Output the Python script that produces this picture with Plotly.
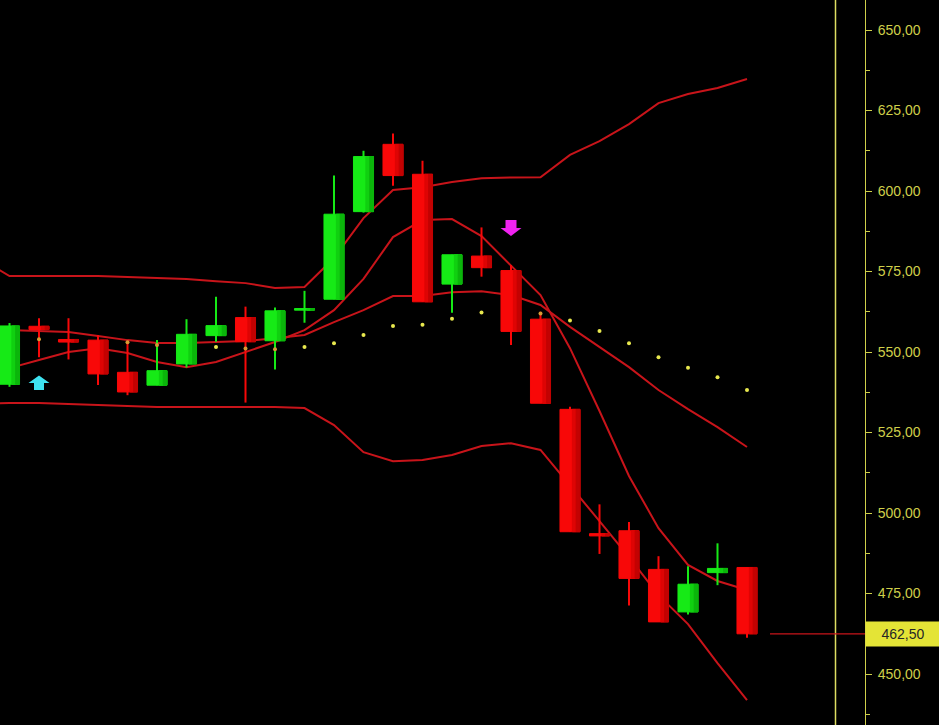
import plotly.graph_objects as go

# ---------------- data ----------------
candle_idx = list(range(26))
opens  = [540.0, 558.0, 553.9, 553.7, 543.7, 539.7, 546.3, 555.1, 560.7, 553.5, 563.0, 566.4, 593.6,
          614.5, 605.2, 571.1, 579.8, 575.3, 560.2, 532.2, 493.6, 494.5, 482.5, 469.3, 481.5, 483.1]
highs  = [559.0, 560.5, 560.5, 555.3, 553.2, 553.7, 560.2, 567.2, 564.1, 563.8, 569.0, 604.8, 612.5,
          617.9, 609.4, 580.2, 588.7, 577.0, 562.5, 533.0, 502.7, 497.2, 486.6, 483.5, 490.6, 483.1]
lows   = [539.2, 548.4, 547.7, 539.8, 536.6, 539.7, 545.2, 553.2, 534.3, 544.6, 559.1, 566.4, 593.3,
          601.6, 565.6, 562.2, 573.4, 552.2, 534.1, 494.2, 487.3, 471.3, 466.2, 468.5, 477.6, 461.3]
closes = [558.1, 557.0, 553.1, 543.2, 537.6, 544.2, 555.5, 558.2, 553.2, 562.8, 563.5, 592.8, 610.7,
          604.8, 565.6, 580.2, 576.2, 556.4, 534.1, 494.2, 492.9, 479.7, 466.2, 477.9, 482.8, 462.5]

band_idx = list(range(-1, 26))
upper_band  = [579.0, 573.6, 573.6, 573.6, 573.6, 573.3, 573.0, 572.7, 572.0, 571.4, 569.9, 570.2, 579.2,
               591.6, 600.3, 601.2, 602.8, 604.0, 604.2, 604.3, 611.2, 615.5, 620.8, 627.3, 630.1, 632.0, 634.8]
middle_band = [557.1, 556.8, 556.5, 556.2, 555.0, 553.7, 552.8, 552.8, 553.1, 553.4, 554.3, 555.3, 559.3,
               563.0, 567.4, 567.4, 568.6, 568.9, 567.7, 564.6, 557.8, 551.6, 545.3, 538.2, 532.3, 526.7, 520.5]
fast_ma     = [543.2, 545.0, 547.5, 550.0, 551.2, 549.7, 546.9, 545.3, 546.9, 550.0, 553.1, 556.8, 563.0,
               572.7, 585.7, 591.0, 591.3, 586.0, 577.0, 567.7, 551.2, 531.7, 511.5, 495.3, 483.9, 478.9, 476.1]
lower_band  = [533.9, 534.2, 534.2, 533.9, 533.5, 533.2, 532.9, 532.9, 532.9, 532.9, 532.9, 532.6, 527.3,
               518.9, 516.1, 516.5, 518.0, 520.8, 521.7, 519.6, 508.7, 497.5, 486.3, 474.5, 465.5, 453.4, 441.9]

sar_idx = [1, 4, 5, 7, 8, 9, 10, 11, 12, 13, 14, 15, 16, 18, 19, 20, 21, 22, 23, 24, 25]
sar_val = [554.0, 553.0, 552.2, 551.6, 551.1, 550.9, 551.6, 552.7, 555.3, 558.1, 558.5, 560.3, 562.3,
           562.0, 559.8, 556.5, 552.7, 548.4, 545.1, 542.2, 538.2]

buy_signal_idx = [1]
buy_signal_price = [540.4]
sell_signal_idx = [17]
sell_signal_price = [588.5]

y_ticks = [450, 475, 500, 525, 550, 575, 600, 625, 650]
cursor_idx = 28
last_price = closes[-1]

# ---------------- style ----------------
GREEN_SHADES = ['#16ea16', '#10d010', '#0bb50b']
RED_SHADES = ['#f80808', '#de0404', '#c20202']
BAND = '#c8141a'
AXIS = '#cfcf4a'
CURSOR = '#dede62'
FONT = 'Liberation Sans, Arial, sans-serif'
x_view = [-0.322, 29.0]
y_view = [434.18, 659.32]
BODY_W = 0.68

fig = go.Figure()

# indicator lines (main subplot, below candles)
for series in (upper_band, middle_band, fast_ma, lower_band):
    fig.add_trace(go.Scatter(x=band_idx, y=series, mode='lines',
                             line=dict(color=BAND, width=2),
                             xaxis='x', yaxis='y', hoverinfo='skip'))

# candles (overlay subplot, above the lines)
for rising in (True, False):
    sel = [i for i in candle_idx if (closes[i] >= opens[i]) == rising]
    shades = GREEN_SHADES if rising else RED_SHADES
    heights = [abs(closes[i] - opens[i]) for i in sel]
    bases = [min(opens[i], closes[i]) for i in sel]
    # body
    fig.add_trace(go.Bar(x=sel, y=heights, base=bases, width=BODY_W,
                         marker=dict(color=shades[0], line=dict(color=shades[0], width=1)),
                         xaxis='x2', yaxis='y2', hoverinfo='skip'))
    # shading towards the right edge of the body
    for k, (off, w) in enumerate([(0.08, 0.13), (0.21, 0.13)]):
        fig.add_trace(go.Bar(x=sel, y=heights, base=bases, width=w, offset=off,
                             marker=dict(color=shades[k + 1], line=dict(color=shades[k + 1], width=1)),
                             xaxis='x2', yaxis='y2', hoverinfo='skip'))
    wx, wy = [], []
    for i in sel:
        wx += [i, i, None]
        wy += [lows[i], highs[i], None]
    fig.add_trace(go.Scatter(x=wx, y=wy, mode='lines',
                             line=dict(color=shades[0], width=2),
                             xaxis='x2', yaxis='y2', hoverinfo='skip'))

# SAR dots
dot_colors = ['#d89a34' if lows[i] <= v <= highs[i] else '#e8e84e' for i, v in zip(sar_idx, sar_val)]
fig.add_trace(go.Scatter(x=sar_idx, y=sar_val, mode='markers',
                         marker=dict(size=4, color=dot_colors, line=dict(width=0)),
                         xaxis='x2', yaxis='y2', hoverinfo='skip'))

# signal arrows (pixel-sized paths anchored at data points)
up_path = 'M0,7.5 L10.5,0 L5,0 L5,-7 L-5,-7 L-5,0 L-10.5,0 Z'
down_path = 'M0,-8 L10.5,0 L5.5,0 L5.5,8 L-5.5,8 L-5.5,0 L-10.5,0 Z'
for xi, yv in zip(buy_signal_idx, buy_signal_price):
    fig.add_shape(type='path', xref='x', yref='y', xsizemode='pixel', ysizemode='pixel',
                  xanchor=xi, yanchor=yv, path=up_path,
                  fillcolor='#3ee2f0', line=dict(width=0), layer='above')
for xi, yv in zip(sell_signal_idx, sell_signal_price):
    fig.add_shape(type='path', xref='x', yref='y', xsizemode='pixel', ysizemode='pixel',
                  xanchor=xi, yanchor=yv, path=down_path,
                  fillcolor='#f022f0', line=dict(width=0), layer='above')

# cursor vertical line and last-price line
fig.add_shape(type='line', xref='x', yref='paper', x0=cursor_idx, x1=cursor_idx, y0=0, y1=1,
              line=dict(color=CURSOR, width=1.5), layer='above')
fig.add_shape(type='line', xref='x', yref='y', x0=candle_idx[-1] + 0.78, x1=x_view[1],
              y0=last_price, y1=last_price, line=dict(color=BAND, width=1.2), layer='above')

fig.add_annotation(xref='paper', x=1, xanchor='left', yref='y', y=last_price, yanchor='middle',
                   text=f'{last_price:.2f}'.replace('.', ','), showarrow=False,
                   bgcolor='#e4e436', font=dict(color='#262626', size=14, family=FONT),
                   width=70, height=20, borderpad=2, align='center')

minor_ticks = [t + 12.5 for t in y_ticks[:-1]] + [y_ticks[-1] + 12.5, y_ticks[0] - 12.5]

fig.update_layout(
    width=939, height=725,
    margin=dict(l=0, r=74, t=0, b=0),
    paper_bgcolor='black', plot_bgcolor='black',
    showlegend=False, separators=', ', barmode='overlay',
    xaxis=dict(range=x_view, visible=False, showgrid=False, zeroline=False),
    xaxis2=dict(range=x_view, overlaying='x', visible=False, showgrid=False, zeroline=False),
    yaxis=dict(range=y_view, side='right', tickvals=y_ticks, tickformat='.2f',
               ticks='outside', ticklen=6, tickcolor=AXIS, tickwidth=1,
               showline=True, linecolor=AXIS, linewidth=1,
               showgrid=False, zeroline=False, ticklabelstandoff=3,
               tickfont=dict(family=FONT, size=14, color=AXIS),
               minor=dict(tickvals=minor_ticks, ticks='outside', ticklen=4, tickcolor=AXIS, tickwidth=1)),
    yaxis2=dict(range=y_view, overlaying='y', visible=False, showgrid=False, zeroline=False),
)

fig.write_html('out.html', config={'displayModeBar': False},
               post_script="document.body.style.margin='0';document.body.style.background='black';")
